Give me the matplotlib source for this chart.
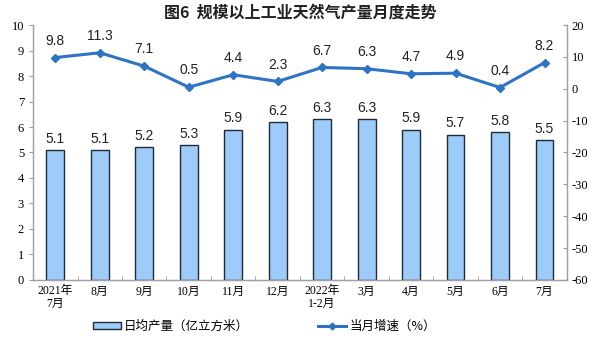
import matplotlib
matplotlib.use("Agg")
import matplotlib.pyplot as plt
from matplotlib.patches import Patch
from matplotlib.lines import Line2D

plt.rcParams['font.family'] = ['Liberation Sans', 'Noto Sans CJK SC']
plt.rcParams['axes.unicode_minus'] = False

categories = ['2021年\n7月', '8月', '9月', '10月', '11月', '12月', '2022年\n1-2月',
              '3月', '4月', '5月', '6月', '7月']
daily_output = [5.1, 5.1, 5.2, 5.3, 5.9, 6.2, 6.3, 6.3, 5.9, 5.7, 5.8, 5.5]
growth = [9.8, 11.3, 7.1, 0.5, 4.4, 2.3, 6.7, 6.3, 4.7, 4.9, 0.4, 8.2]
left_ticks = list(range(0, 11))
right_ticks = list(range(-60, 21, 10))

fig = plt.figure(figsize=(6.01, 3.53), dpi=100)
ax = fig.add_axes([0.055, 0.207, 0.888, 0.722])
ax2 = ax.twinx()

x = list(range(len(categories)))
bar_color = '#9DCBFA'
line_color = '#2E74C4'
ax.bar(x, daily_output, width=0.4, color=bar_color, edgecolor='#1F2A36', linewidth=1.0, zorder=2)
for xi, v in zip(x, daily_output):
    ax.annotate(f'{v}', (xi, v), xytext=(0, 3), textcoords='offset points',
                ha='center', va='bottom', fontsize=10, color='#222222')

ax2.plot(x, growth, color=line_color, linewidth=2.2, marker='D', markersize=4.5, zorder=3)
for xi, v in zip(x, growth):
    ax2.annotate(f'{v}', (xi, v), xytext=(0, 7), textcoords='offset points',
                 ha='center', va='bottom', fontsize=10, color='#222222')

ax.set_xlim(-0.5, len(categories) - 0.5)
ax.set_ylim(0, 10)
ax2.set_ylim(-60, 20)
ax.set_yticks(left_ticks)
ax2.set_yticks(right_ticks)
ax.set_xticks(x)
ax.set_xticklabels(categories, fontsize=8.5, family=['Liberation Serif', 'Noto Sans CJK SC'], linespacing=1.1)
ax.set_xticks([i + 0.5 for i in x[:-1]], minor=True)
ax.tick_params(axis='x', which='major', length=0, pad=4)
ax.tick_params(axis='x', which='minor', length=3, direction='in', color='#999999')
ax.tick_params(axis='y', length=3, direction='out', color='#999999', labelsize=9)
ax2.tick_params(axis='y', length=3, direction='in', color='#999999', labelsize=9)
for lab in ax.get_yticklabels() + ax2.get_yticklabels():
    lab.set_family(['Liberation Serif'])

for a in (ax, ax2):
    a.spines['top'].set_visible(False)
    for s in ('left', 'right', 'bottom'):
        a.spines[s].set_color('#A0A0A0')
        a.spines[s].set_linewidth(0.9)

fig.text(0.5, 0.965, '图6  规模以上工业天然气产量月度走势', ha='center', va='center',
         fontsize=11.5, fontweight='bold', family=['Noto Sans CJK SC'], color='#222222')

handles = [Patch(facecolor=bar_color, edgecolor='#1F2A36', linewidth=1.0),
           Line2D([0], [0], color=line_color, linewidth=2.2, marker='D', markersize=3.5)]
fig.legend(handles, ['日均产量（亿立方米）', '当月增速（%）'], loc='center', bbox_to_anchor=(0.44, 0.075),
           ncol=2, frameon=False, columnspacing=5.5, handlelength=2.2, handleheight=0.5,
           handletextpad=0.3, prop={'family': ['Noto Sans CJK SC'], 'size': 9})

fig.savefig('out.png', dpi=100)
